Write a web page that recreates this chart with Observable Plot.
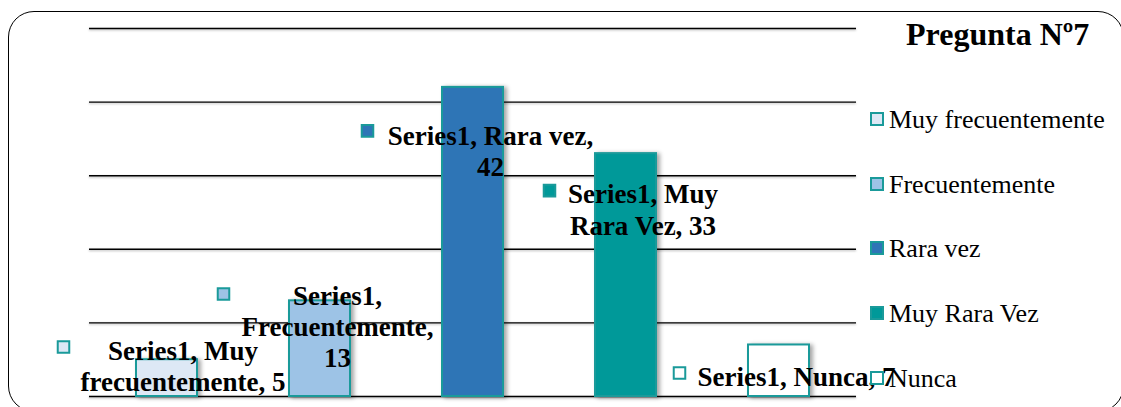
<!DOCTYPE html>
<html>
<head>
<meta charset="utf-8">
<script src="https://cdn.jsdelivr.net/npm/d3@7"></script>
<script src="https://cdn.jsdelivr.net/npm/@observablehq/plot@0.6"></script>
<style>
  body { margin: 0; overflow: hidden; background: #fff; }
  #wrap { position: relative; width: 1121px; height: 407px; overflow: hidden;
          font-family: "Liberation Serif", "Times New Roman", serif; }
  #chart svg { position: absolute; left: 0; top: 0; }
  #frame { position: absolute; left: 8px; top: 11px; width: 1116px; height: 401px;
           border: 1.5px solid #000; border-radius: 26px; box-sizing: border-box; pointer-events: none; }
  #title { position: absolute; left: 906px; top: 18px; font-size: 32px; line-height: 32px;
           font-weight: bold; white-space: nowrap; color: #000; }
  #legend { position: absolute; left: 870px; top: 107px; }
  .item { height: 64.7px; font-size: 26px; line-height: 26px; white-space: nowrap; color: #000; }
  .sw { display: inline-block; width: 10px; height: 10px; border: 2px solid #1a9a9a;
        margin-right: 5px; vertical-align: 2px; }
  g[aria-label="bar"] { filter: drop-shadow(3px 1px 2px rgba(0,0,0,0.35)); }
  g[aria-label="rule"] { filter: drop-shadow(0px 1px 1px rgba(0,0,0,0.3)); }
</style>
</head>
<body>
<div id="wrap">
  <div id="chart"></div>
  <div id="frame"></div>
  <div id="title"></div>
  <div id="legend"></div>
</div>
<script>
// ---- data ----
const seriesName = "Series1";
const categories = ["Muy frecuentemente", "Frecuentemente", "Rara vez", "Muy Rara Vez", "Nunca"];
const values = [5, 13, 42, 33, 7];
const yTicks = [0, 10, 20, 30, 40, 50];
const chartTitle = "Pregunta Nº7";

// ---- styles ----
const palette = ["#dde8f5", "#9dc3e6", "#2e75b6", "#009999", "#ffffff"];
const edge = "#1a9a9a";
const font = "Liberation Serif";

const data = categories.map((c, i) => ({cat: c, value: values[i]}));

// label layout (words per line before each break, offsets from bar top centre)
const labelLayout = [
  {breaks: [2],    dx: 16,   dy: -21.4, mdx: -103.5, mdy: -12.7},
  {breaks: [1, 1], dx: 17.5, dy: -17.5, mdx: -96.5,  mdy: -6.8},
  {breaks: [3],    dx: 17.5, dy: 35.8,  mdx: -105.5, mdy: 43.5},
  {breaks: [2],    dx: 17,   dy: 27.8,  mdx: -76.5,  mdy: 37},
  {breaks: [],     dx: 17.5, dy: 19.3,  mdx: -99.5,  mdy: 28}
];

function labelText(d, breaks) {
  const words = `${seriesName}, ${d.cat}, ${d.value}`.split(" ");
  const lines = [];
  let start = 0;
  for (const b of breaks) { lines.push(words.slice(start, start + b).join(" ")); start += b; }
  lines.push(words.slice(start).join(" "));
  return lines.join("\n");
}

const labelMarks = [];
data.forEach((d, i) => {
  const L = labelLayout[i];
  labelMarks.push(Plot.dot([d], {
    x: "cat", y: "value", dx: L.mdx, dy: L.mdy, symbol: "square", r: 6.5,
    fill: "cat", stroke: edge, strokeWidth: 2
  }));
  labelMarks.push(Plot.text([d], {
    x: "cat", y: "value", text: dd => labelText(dd, L.breaks),
    dx: L.dx, dy: L.dy, lineAnchor: "top", textAnchor: "middle", lineHeight: 1.15,
    fontSize: 27, fontWeight: "bold", fontFamily: font, fill: "#000"
  }));
});

const chart = Plot.plot({
  width: 1121, height: 407,
  marginLeft: 89, marginRight: 265, marginTop: 28, marginBottom: 11,
  style: {fontFamily: font, background: "transparent"},
  x: {domain: categories, axis: null, paddingInner: 0.6, paddingOuter: 0.3},
  y: {domain: [0, 50], axis: null},
  color: {domain: categories, range: palette},
  marks: [
    Plot.ruleY(yTicks, {stroke: "#000", strokeWidth: 1.4}),
    Plot.barY(data, {x: "cat", y: "value", fill: "cat", stroke: edge, strokeWidth: 2}),
    ...labelMarks
  ]
});
document.getElementById("chart").appendChild(chart);

document.getElementById("title").textContent = chartTitle;
const legend = document.getElementById("legend");
categories.forEach((c, i) => {
  const row = document.createElement("div");
  row.className = "item";
  const sw = document.createElement("span");
  sw.className = "sw";
  sw.style.background = palette[i];
  row.appendChild(sw);
  row.appendChild(document.createTextNode(c));
  legend.appendChild(row);
});
</script>
</body>
</html>
